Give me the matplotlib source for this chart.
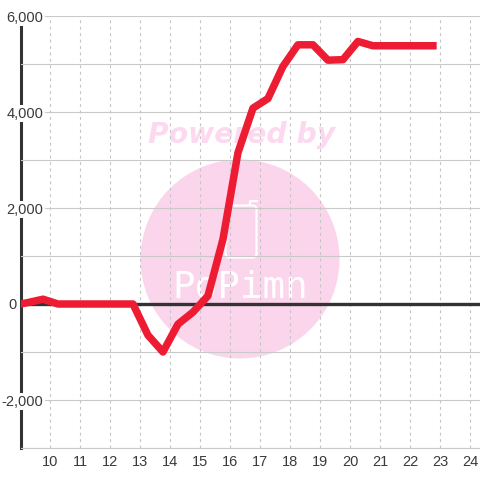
import matplotlib
matplotlib.use("Agg")
import matplotlib.pyplot as plt
from matplotlib.lines import Line2D
from matplotlib.patches import Circle, FancyBboxPatch
from matplotlib.ticker import FuncFormatter, MultipleLocator

hours = [8.75, 9.25, 9.75, 10.25, 10.75, 11.25, 11.75, 12.25, 12.75, 13.25, 13.75, 14.25, 14.75,
         15.25, 15.75, 16.25, 16.75, 17.25, 17.75, 18.25, 18.75, 19.25, 19.75, 20.25, 20.75,
         21.25, 21.75, 22.25, 22.75]
values = [-30, 30, 100, 0, 0, 0, 0, 0, 0, -650, -1000, -420, -170,
          170, 1350, 3150, 4080, 4280, 4950, 5400, 5400, 5080, 5090, 5470, 5380,
          5380, 5380, 5380, 5380]
x_ticks = list(range(10, 25))
y_labelled = [-2000, 2000, 4000, 6000]
zero_label = '0'

plt.rcParams['font.family'] = ['Liberation Sans', 'DejaVu Sans']
fig = plt.figure(figsize=(4.8, 4.8), dpi=100, facecolor='white')
ax = fig.add_axes([20.5/480, 32/480, 459.5/480, 432/480])
ax.set_xlim(9.0, 24.32)
ax.set_ylim(-3000, 6000)
ax.patch.set_alpha(0)

def px(x, y):
    return (x, 480 - y)

PINK = '#fbd5ec'
fig.patches.append(Circle(px(240, 259), 99.5, facecolor=PINK, edgecolor='none',
                          transform=None, zorder=-5))
fig.text(242/480, 1 - 135/480, 'Powered by', color='#fcd9ef', fontsize=20.3, fontweight='bold',
         fontstyle='italic', family='DejaVu Sans', ha='center', va='center', zorder=-5)
fig.text(240/480, 1 - 288/480, 'PoPimn', color='white', fontsize=27, family='DejaVu Sans Mono',
         ha='center', va='center', zorder=-4)
fig.patches.append(FancyBboxPatch(px(225.5, 257.5), 31, 52, boxstyle='round,pad=0,rounding_size=4',
                                  facecolor='none', edgecolor='white', linewidth=1.5,
                                  transform=None, zorder=-4))
fig.lines.append(Line2D([250, 250, 256.5], [480 - 205, 480 - 200.5, 480 - 200.5], color='white',
                        linewidth=1.5, transform=None, zorder=-4))

ax.grid(True, axis='y', color='#c9c9c9', linewidth=0.8, linestyle='-')
ax.grid(True, axis='x', color='#c4c4c4', linewidth=0.8, linestyle=(0, (2.6, 3.2)))
ax.yaxis.set_major_locator(MultipleLocator(1000))
ax.set_xticks(x_ticks)
ax.yaxis.set_major_formatter(FuncFormatter(lambda v, _: f"{int(v):,}" if int(v) in y_labelled else ""))
ax.tick_params(axis='both', length=0, labelsize=10.5, labelcolor='#3a3a3a')
ax.tick_params(axis='x', pad=5)
ax.tick_params(axis='y', pad=-16.5)
ax.yaxis.set_zorder(3)
fig.canvas.draw()
for lab in ax.get_yticklabels():
    if lab.get_text():
        lab.set_bbox(dict(facecolor='white', edgecolor='none', pad=1))

for s in ['top', 'right']:
    ax.spines[s].set_visible(False)
ax.spines['bottom'].set_color('#c9c9c9')
ax.spines['bottom'].set_linewidth(0.8)
ax.spines['left'].set_color('#333333')
ax.spines['left'].set_linewidth(2.2)
ax.spines['left'].set_zorder(2)
ax.axhline(0, color='#333333', linewidth=2.4, zorder=3.5)
ax.annotate(zero_label, xy=(0, 0), xycoords=('axes fraction', 'data'), xytext=(-3, -1),
            textcoords='offset points', ha='right', va='center', fontsize=10.5, color='#3a3a3a',
            annotation_clip=False)
ax.plot(hours, values, color='#ee1c33', linewidth=5.4, solid_joinstyle='round',
        solid_capstyle='projecting', zorder=4)
fig.savefig('out.png', dpi=100)
